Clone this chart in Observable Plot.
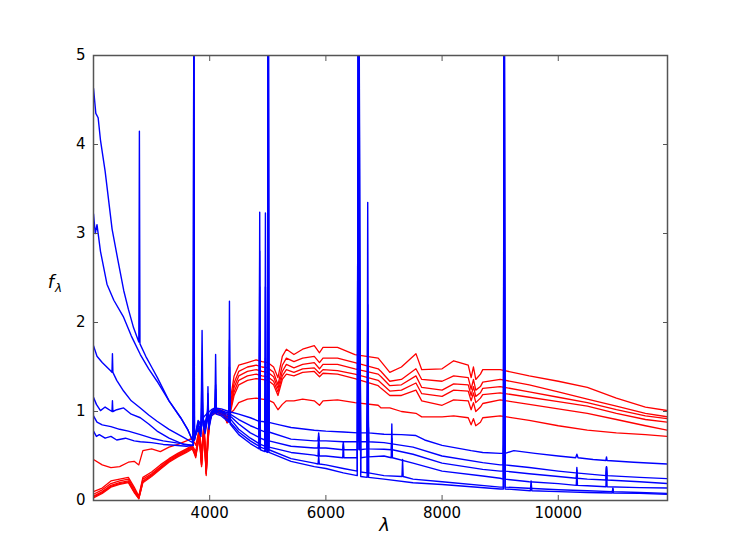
<!DOCTYPE html>
<html><head><meta charset="utf-8">
<script src="https://cdn.jsdelivr.net/npm/d3@7"></script>
<script src="https://cdn.jsdelivr.net/npm/@observablehq/plot@0.6"></script>
<style>body{margin:0;background:#fff} #chart{width:741px;height:556px}</style>
</head><body><div id="chart"></div>
<script>
// ---- red (passive) spectra on a shared wavelength grid ----
const redWave = [
  2000,2150,2300,2450,2600,2700,2780,2850,3000,3150,
  3300,3450,3600,3700,3760,3820,3860,3900,3940,3970,
  4000,4050,4150,4250,4300,4360,4420,4500,4650,4800,
  4900,5000,5100,5175,5250,5320,5450,5600,5800,5890,
  5950,6200,6500,6900,6950,7100,7300,7550,7650,8000,
  8200,8450,8500,8540,8580,8660,8700,9000,9500,10000,
  10500,11000,11500,11880];
const red1 = [
  0.10,0.14,0.22,0.24,0.26,0.15,0.05,0.26,0.32,0.40,
  0.47,0.53,0.58,0.62,0.55,0.78,0.45,0.88,0.35,0.75,
  0.95,1.02,1.03,1.00,0.92,1.15,1.40,1.52,1.55,1.58,
  1.56,1.55,1.50,1.38,1.62,1.70,1.64,1.70,1.74,1.66,
  1.72,1.72,1.64,1.60,1.56,1.44,1.50,1.65,1.47,1.48,
  1.57,1.52,1.38,1.50,1.36,1.42,1.47,1.47,1.40,1.34,
  1.27,1.15,1.05,1.01];
const red2 = [
  0.07,0.12,0.19,0.22,0.24,0.13,0.04,0.24,0.30,0.38,
  0.46,0.52,0.57,0.61,0.50,0.82,0.40,0.84,0.30,0.70,
  0.93,1.01,1.02,0.99,0.90,1.10,1.32,1.45,1.50,1.52,
  1.50,1.49,1.44,1.30,1.52,1.60,1.56,1.60,1.62,1.55,
  1.60,1.60,1.55,1.48,1.45,1.34,1.36,1.48,1.36,1.34,
  1.40,1.38,1.25,1.36,1.24,1.28,1.33,1.36,1.30,1.22,
  1.14,1.06,0.98,0.94];
const red3 = [
  0.05,0.10,0.17,0.20,0.22,0.11,0.03,0.22,0.29,0.37,
  0.45,0.51,0.56,0.60,0.52,0.72,0.42,0.80,0.32,0.66,
  0.92,1.00,1.01,0.98,0.89,1.06,1.27,1.40,1.45,1.47,
  1.45,1.44,1.39,1.26,1.45,1.53,1.49,1.53,1.55,1.48,
  1.53,1.53,1.48,1.42,1.39,1.29,1.30,1.40,1.27,1.24,
  1.31,1.30,1.18,1.28,1.17,1.21,1.26,1.28,1.22,1.16,
  1.10,1.02,0.95,0.92];
const red4 = [
  0.04,0.09,0.16,0.19,0.21,0.10,0.02,0.21,0.28,0.36,
  0.44,0.50,0.55,0.59,0.48,0.76,0.38,0.82,0.28,0.68,
  0.90,0.99,1.00,0.97,0.88,1.03,1.22,1.35,1.40,1.42,
  1.40,1.39,1.34,1.22,1.40,1.47,1.44,1.48,1.49,1.43,
  1.47,1.46,1.42,1.35,1.32,1.23,1.24,1.32,1.20,1.17,
  1.24,1.23,1.12,1.21,1.10,1.15,1.19,1.21,1.16,1.11,
  1.06,0.98,0.91,0.88];
const red5 = [
  0.03,0.08,0.15,0.18,0.20,0.09,0.02,0.20,0.27,0.35,
  0.43,0.49,0.54,0.58,0.50,0.70,0.40,0.78,0.30,0.64,
  0.89,0.98,0.99,0.96,0.87,1.00,1.18,1.30,1.35,1.37,
  1.36,1.35,1.30,1.18,1.36,1.42,1.40,1.44,1.45,1.39,
  1.43,1.42,1.37,1.29,1.26,1.18,1.18,1.24,1.12,1.07,
  1.13,1.12,1.02,1.10,1.00,1.05,1.09,1.13,1.08,1.03,
  0.98,0.91,0.84,0.79];
const red6 = [
  0.46,0.40,0.37,0.38,0.43,0.44,0.40,0.56,0.58,0.55,
  0.60,0.63,0.67,0.70,0.62,0.80,0.55,0.85,0.45,0.80,
  0.92,0.98,0.97,0.95,0.88,0.98,1.02,1.10,1.14,1.15,
  1.14,1.13,1.10,1.02,1.08,1.12,1.12,1.14,1.12,1.07,
  1.12,1.13,1.10,1.07,1.04,1.04,1.00,0.98,0.94,0.94,
  0.95,0.93,0.85,0.92,0.84,0.88,0.93,0.95,0.90,0.84,
  0.79,0.76,0.74,0.72];

// ---- blue (star-forming) spectra: [wavelength, flux] incl. emission lines ----
const blue1 = [[2000,4.63],[2040,4.35],[2080,4.30],[2120,4.05],[2200,3.70],[2320,3.05],[2420,2.70],[2520,2.36],[2600,2.15],[2690,1.94],[2780,1.78],[2790,4.15],[2800,1.76],[2900,1.62],[3000,1.50],[3100,1.38],[3300,1.12],[3500,0.93],[3620,0.80],[3700,0.68],[3717,0.66],[3727,6.0],[3737,0.70],[3800,0.80],[3850,0.72],[3869,1.91],[3885,0.85],[3920,0.75],[3960,0.90],[3970,1.28],[3985,0.80],[4030,0.95],[4090,0.98],[4102,1.30],[4115,0.97],[4200,0.95],[4330,0.88],[4340,1.80],[4352,0.86],[4500,0.74],[4700,0.64],[4850,0.58],[4861,3.24],[4872,0.57],[4950,0.55],[4959,2.4],[4970,0.55],[4995,0.54],[5007,8],[5020,0.54],[5400,0.44],[5800,0.38],[6000,0.36],[6300,0.31],[6540,0.28],[6563,8],[6583,2.6],[6600,0.27],[6710,0.26],[6720,2.2],[6735,0.26],[7000,0.24],[7500,0.20],[8000,0.18],[9000,0.13],[9055,0.13],[9069,7],[9085,0.13],[9520,0.11],[9532,0.22],[9545,0.11],[10000,0.10],[10500,0.09],[10930,0.085],[10940,0.13],[10950,0.085],[11400,0.08],[11880,0.07]];
const blue2 = [[2000,3.22],[2030,3.00],[2060,3.10],[2120,2.80],[2232,2.43],[2350,2.25],[2518,2.06],[2650,1.85],[2806,1.64],[2950,1.48],[3094,1.34],[3300,1.12],[3500,0.93],[3620,0.80],[3700,0.68],[3717,0.66],[3727,6.0],[3737,0.72],[3800,0.82],[3850,0.75],[3869,1.50],[3885,0.85],[3920,0.78],[3960,0.92],[3970,1.20],[3985,0.82],[4030,0.97],[4090,1.00],[4102,1.64],[4115,0.99],[4200,0.97],[4330,0.90],[4340,2.24],[4352,0.88],[4500,0.77],[4700,0.67],[4850,0.61],[4861,2.80],[4872,0.60],[4950,0.58],[4959,3.23],[4970,0.58],[4995,0.57],[5007,9],[5020,0.57],[5400,0.47],[5800,0.42],[5865,0.41],[5876,0.50],[5887,0.41],[6000,0.40],[6300,0.36],[6540,0.33],[6563,8],[6583,3.0],[6600,0.32],[6710,0.31],[6720,3.35],[6735,0.31],[7000,0.28],[7310,0.27],[7320,0.46],[7330,0.27],[7500,0.24],[8000,0.21],[9000,0.15],[9055,0.15],[9069,7],[9085,0.15],[10000,0.12],[10500,0.11],[10930,0.10],[10940,0.14],[10950,0.10],[11400,0.09],[11880,0.08]];
const blue3 = [[2000,1.74],[2060,1.62],[2150,1.55],[2290,1.46],[2318,1.44],[2326,1.65],[2334,1.44],[2400,1.35],[2518,1.23],[2650,1.12],[2806,1.04],[2950,0.96],[3094,0.89],[3300,0.80],[3550,0.71],[3680,0.66],[3717,0.65],[3727,6.0],[3737,0.70],[3800,0.85],[3850,0.78],[3869,1.20],[3885,0.88],[3920,0.82],[3960,0.95],[3970,1.10],[3985,0.85],[4030,0.98],[4090,1.01],[4102,1.25],[4115,1.00],[4200,0.99],[4330,0.93],[4340,1.50],[4352,0.92],[4500,0.80],[4700,0.70],[4850,0.64],[4861,2.40],[4872,0.63],[4950,0.61],[4959,1.60],[4970,0.61],[4995,0.60],[5007,5.5],[5020,0.60],[5400,0.54],[5800,0.51],[5865,0.50],[5876,0.65],[5887,0.50],[6000,0.50],[6290,0.48],[6300,0.63],[6310,0.48],[6540,0.48],[6563,7],[6583,2.5],[6600,0.48],[6710,0.49],[6720,2.0],[6735,0.49],[7000,0.50],[7125,0.48],[7135,0.86],[7145,0.48],[7500,0.42],[8000,0.33],[8700,0.275],[9000,0.25],[9055,0.24],[9069,6],[9085,0.24],[9500,0.21],[10000,0.19],[10310,0.17],[10320,0.34],[10330,0.17],[10500,0.165],[10820,0.155],[10830,0.37],[10840,0.155],[11400,0.145],[11880,0.14]];
const blue4 = [[2000,1.16],[2050,1.08],[2120,1.01],[2200,1.05],[2318,1.00],[2326,1.12],[2334,1.00],[2400,1.02],[2518,1.04],[2650,0.97],[2806,0.93],[2950,0.86],[3094,0.78],[3300,0.70],[3550,0.63],[3680,0.62],[3717,0.62],[3727,3.22],[3737,0.68],[3800,0.86],[3850,0.80],[3869,1.05],[3885,0.90],[3920,0.84],[3960,0.96],[3970,1.05],[3985,0.88],[4030,0.99],[4090,1.02],[4102,1.15],[4115,1.01],[4200,1.00],[4330,0.96],[4340,1.30],[4352,0.95],[4500,0.86],[4700,0.76],[4850,0.71],[4861,1.90],[4872,0.70],[4950,0.68],[4959,1.20],[4970,0.68],[4995,0.67],[5007,2.6],[5020,0.67],[5400,0.61],[5800,0.59],[5865,0.59],[5876,0.72],[5887,0.59],[6000,0.59],[6290,0.57],[6300,0.66],[6310,0.57],[6550,0.57],[6563,3.86],[6576,0.57],[6710,0.58],[6720,1.6],[6735,0.58],[7000,0.576],[7125,0.57],[7135,0.70],[7145,0.57],[7500,0.52],[8000,0.42],[8700,0.35],[9000,0.33],[9055,0.33],[9069,3.0],[9085,0.33],[9500,0.30],[10000,0.27],[10310,0.25],[10320,0.37],[10330,0.25],[10500,0.24],[10820,0.23],[10830,0.38],[10840,0.23],[11400,0.21],[11880,0.19]];
const blue5 = [[2000,0.95],[2060,0.88],[2150,0.85],[2300,0.83],[2450,0.80],[2600,0.78],[2806,0.74],[3000,0.70],[3200,0.67],[3400,0.65],[3600,0.63],[3717,0.62],[3727,2.2],[3737,0.68],[3800,0.88],[3850,0.84],[3869,0.95],[3885,0.92],[3920,0.87],[3960,0.98],[3970,1.02],[3985,0.92],[4030,1.00],[4090,1.03],[4102,1.08],[4115,1.02],[4200,1.01],[4330,0.98],[4340,1.15],[4352,0.97],[4500,0.91],[4700,0.84],[4850,0.80],[4861,1.50],[4872,0.79],[4950,0.77],[4959,0.95],[4970,0.77],[4995,0.77],[5007,1.6],[5020,0.77],[5400,0.69],[5800,0.67],[5865,0.67],[5876,0.76],[5887,0.67],[6000,0.67],[6300,0.66],[6550,0.66],[6563,2.5],[6576,0.66],[6710,0.66],[6720,1.2],[6735,0.66],[7000,0.65],[7500,0.60],[8000,0.50],[8700,0.425],[9000,0.40],[9055,0.40],[9069,1.5],[9085,0.40],[9500,0.37],[10000,0.33],[10300,0.31],[10820,0.28],[10830,0.38],[10840,0.28],[11400,0.26],[11880,0.245]];
const blue6 = [[2000,0.78],[2050,0.72],[2100,0.74],[2200,0.70],[2300,0.72],[2400,0.68],[2550,0.70],[2700,0.67],[2806,0.66],[3000,0.65],[3200,0.63],[3400,0.62],[3600,0.61],[3717,0.62],[3727,1.6],[3737,0.68],[3800,0.90],[3850,0.86],[3900,0.94],[3960,0.98],[4030,1.02],[4090,1.04],[4200,1.03],[4330,1.00],[4500,0.97],[4700,0.93],[4850,0.89],[4861,1.10],[4872,0.89],[5000,0.88],[5200,0.85],[5400,0.82],[5800,0.79],[6000,0.78],[6300,0.77],[6550,0.76],[6563,1.6],[6576,0.76],[6710,0.76],[6720,1.0],[6735,0.76],[7000,0.745],[7300,0.74],[7550,0.73],[7700,0.68],[8000,0.62],[8500,0.56],[8700,0.54],[9000,0.53],[9055,0.53],[9069,0.8],[9085,0.53],[9235,0.56],[9600,0.53],[10000,0.50],[10300,0.48],[10320,0.52],[10340,0.48],[10600,0.46],[10820,0.45],[10830,0.49],[10840,0.45],[11300,0.43],[11880,0.41]];

const xTicks = [4000, 6000, 8000, 10000];
const yTicks = [0, 1, 2, 3, 4, 5];
const xDomain = [2000, 11880];
const yDomain = [0, 5];

const redRows = [red1, red2, red3, red4, red5, red6].flatMap((vals, s) =>
  vals.map((f, i) => ({wave: redWave[i], f, s: "r" + s})));
const blueRows = [blue1, blue2, blue3, blue4, blue5, blue6].flatMap((pts, s) =>
  pts.map(([wave, f]) => ({wave, f, s: "b" + s})));

const axisColor = "#555";
const chart = Plot.plot({
  width: 741, height: 556,
  marginLeft: 93, marginRight: 74, marginTop: 55, marginBottom: 56,
  style: {fontFamily: "DejaVu Sans", fontSize: "15px", background: "#fff", color: "#000"},
  x: {domain: xDomain},
  y: {domain: yDomain},
  marks: [
    Plot.line(redRows, {x: "wave", y: "f", z: "s", stroke: "#ff0000", strokeWidth: 1.3, clip: true}),
    Plot.line(blueRows, {x: "wave", y: "f", z: "s", stroke: "#0000ff", strokeWidth: 1.4, clip: true}),
    Plot.frame({stroke: axisColor, strokeWidth: 1.5}),
    Plot.axisX(xTicks, {anchor: "bottom", tickSize: -5, tickFormat: () => "", label: null, stroke: axisColor}),
    Plot.axisX(xTicks, {anchor: "top", tickSize: -5, tickFormat: () => "", label: null, stroke: axisColor}),
    Plot.axisX(xTicks, {anchor: "bottom", tickSize: 0, tickPadding: 7, tickFormat: d => String(d), label: null, fontSize: 15}),
    Plot.axisY(yTicks, {anchor: "left", tickSize: -5, tickFormat: () => "", label: null, stroke: axisColor}),
    Plot.axisY(yTicks, {anchor: "right", tickSize: -5, tickFormat: () => "", label: null, stroke: axisColor}),
    Plot.axisY(yTicks, {anchor: "left", tickSize: 0, tickPadding: 8, tickFormat: d => String(d), label: null, fontSize: 15}),
    Plot.text(["λ"], {frameAnchor: "bottom", dy: 30, dx: 4, fontSize: 18, fontStyle: "italic"})
  ]
});
document.getElementById("chart").appendChild(chart);

// y-axis label f_λ (upright, with subscript)
const svg = d3.select(chart);
const yl = svg.append("text")
  .attr("x", 55).attr("y", 288)
  .attr("font-family", "DejaVu Sans").attr("font-size", 18).attr("font-style", "italic").attr("fill", "#000");
yl.append("tspan").text("f");
yl.append("tspan").attr("font-size", 12).attr("dy", 4).attr("dx", 1).text("λ");
</script>
</body></html>
